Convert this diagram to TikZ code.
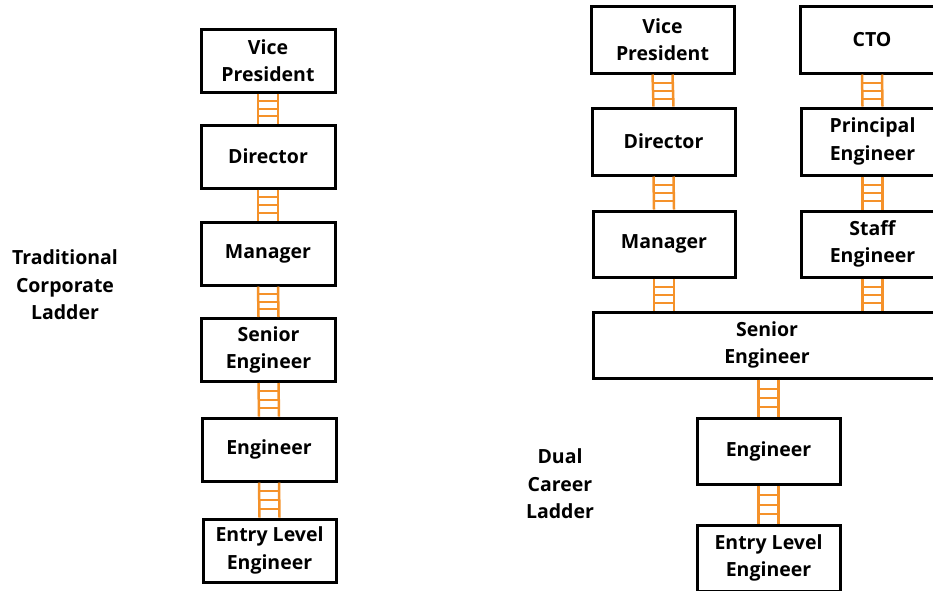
\documentclass[tikz,border=0pt]{standalone}
\usepackage{fontspec}
\setmainfont{Open Sans}
\usetikzlibrary{calc}
\definecolor{ladderorange}{HTML}{F5922A}
\tikzset{
  box/.style={draw=black, line width=3pt, fill=white, align=center,
    inner sep=0pt, font=\fontsize{19.5}{27.5}\selectfont\bfseries},
  lbl/.style={align=center, font=\fontsize{19.5}{27.5}\selectfont\bfseries},
  rail/.style={draw=ladderorange, line width=2.5pt},
  rung/.style={draw=ladderorange, line width=2pt}
}
% \myladder{top point}{bottom point}
\newcommand{\myladder}[2]{%
  \draw[rail] ($(#1)+(-10pt,0)$) -- ($(#2)+(-10pt,0)$);
  \draw[rail] ($(#1)+(10pt,0)$) -- ($(#2)+(10pt,0)$);
  \foreach \t in {0.25,0.5,0.75}{
    \draw[rung] ($(#1)!\t!(#2)+(-10pt,0)$) -- ($(#1)!\t!(#2)+(10pt,0)$);
  }%
}
\begin{document}
\begin{tikzpicture}[x=1pt,y=-1pt]
\clip (0,0) rectangle (933,590);
\fill[white] (0,0) rectangle (933,590);
% left traditional ladder
\node[box, minimum width=134pt, minimum height=63pt] (lvp) at (268,60.5) {Vice\\President};
\node[box, minimum width=134pt, minimum height=63pt] (ldir) at (268,156.5) {Director};
\node[box, minimum width=134pt, minimum height=63pt] (lman) at (268,253.5) {Manager};
\node[box, minimum width=134pt, minimum height=63pt] (lsen) at (268.5,350) {Senior\\Engineer};
\node[box, minimum width=134pt, minimum height=63pt] (leng) at (269,449.5) {Engineer};
\node[box, minimum width=133pt, minimum height=63pt] (lent) at (269.5,550.5) {Entry Level\\Engineer};
\node[lbl] (ltitle) at (65,285) {Traditional\\Corporate\\Ladder};
% right dual ladder
\node[box, minimum width=143pt, minimum height=67pt] (rvp) at (662.5,39.5) {Vice\\President};
\node[box, minimum width=143pt, minimum height=67pt] (cto) at (872,39.5) {CTO};
\node[box, minimum width=143pt, minimum height=67pt] (rdir) at (663.5,141.5) {Director};
\node[box, minimum width=143pt, minimum height=67pt] (pe) at (872.5,141.5) {Principal\\Engineer};
\node[box, minimum width=142pt, minimum height=66pt] (rman) at (664,244) {Manager};
\node[box, minimum width=143pt, minimum height=66pt] (se) at (872.5,244) {Staff\\Engineer};
\node[box, minimum width=348pt, minimum height=66pt] (rsen) at (767,345) {Senior\\Engineer};
\node[box, minimum width=143pt, minimum height=66pt] (reng) at (768.5,451) {Engineer};
\node[box, minimum width=143pt, minimum height=66pt] (rent) at (768.5,558) {Entry Level\\Engineer};
\node[lbl] (rtitle) at (560,484) {Dual\\Career\\Ladder};
% connector end points on the wide box
\coordinate (rsenA) at (rman.south |- rsen.north);
\coordinate (rsenB) at (se.south |- rsen.north);
\coordinate (rsenC) at (reng.north |- rsen.south);
% ladders left
\myladder{lvp.south}{ldir.north}
\myladder{ldir.south}{lman.north}
\myladder{lman.south}{lsen.north}
\myladder{lsen.south}{leng.north}
\myladder{leng.south}{lent.north}
% ladders right
\myladder{rvp.south}{rdir.north}
\myladder{rdir.south}{rman.north}
\myladder{rman.south}{rsenA}
\myladder{cto.south}{pe.north}
\myladder{pe.south}{se.north}
\myladder{se.south}{rsenB}
\myladder{rsenC}{reng.north}
\myladder{reng.south}{rent.north}
\end{tikzpicture}
\end{document}
